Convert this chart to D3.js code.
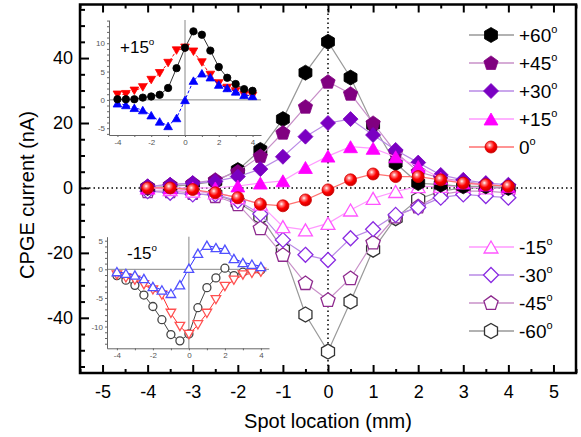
<!DOCTYPE html>
<html>
<head>
<meta charset="utf-8">
<script src="https://cdn.jsdelivr.net/npm/d3@7"></script>
<style>
body { margin: 0; background: #fff; }
svg { display: block; font-family: Arial, "Liberation Sans", sans-serif; }
</style>
</head>
<body>
<svg id="chart"></svg>
<script>
// spot positions (mm)
const positions = [-4, -3.5, -3, -2.5, -2, -1.5, -1, -0.5, 0, 0.5, 1, 1.5, 2, 2.5, 3, 3.5, 4];

// CPGE current (nA) for each incidence angle
const plus60  = [0, 0.5, 1, 2, 5.5, 11.7, 21.2, 35.5, 45, 34, 19.4, 7.6, 1.5, 1, 0.5, 0.5, 0];
const plus45  = [0.5, 1, 1.5, 2.5, 5, 9.8, 17, 25, 32.7, 29, 20, 11, 5, 3, 2, 1, 0.5];
const plus30  = [0.5, 1, 1.5, 2, 3.5, 5.8, 9.6, 15.8, 20, 21.2, 16.3, 11.7, 7.8, 4, 2.5, 1.5, 1];
const plus15  = [0, 0, 0, 0, 0.6, 1.5, 2.2, 6.3, 9.8, 12.7, 12.2, 9.6, 6.6, 3, 1.5, 1, 0.5];
const zero    = [0, 0, -0.5, -1.5, -3, -5, -5.5, -3.7, -0.6, 2.5, 4.3, 3.5, 3.5, 2.5, 1.5, 1, 0.5];
const minus15 = [0, -0.5, -1, -1.5, -3, -5, -11.9, -12.9, -10.9, -6.8, -3.2, -1.1, 0.4, 0.5, 0.5, 0, 0];
const minus30 = [-1, -1.5, -2, -2, -4, -8, -16, -20.6, -22.2, -15.5, -12.7, -8.3, -6, -3, -2, -2.5, -3];
const minus45 = [-1, -1, -1.5, -2.5, -5, -12.4, -20.6, -29.3, -34.5, -27.8, -16.8, -8.8, -5.7, -2, -1, -1, -1.5];
const minus60 = [0, 0, -0.5, -2, -4.5, -8.8, -19, -39, -50.4, -35, -19, -9.3, -3.5, -1, 0, 0, 0];

// inset +15 deg
const insetPlusBlack = [0.1, 0.1, 0.1, 0.4, 0.6, 0.9, 2.1, 5.6, 9.2, 12.1, 11.5, 8.7, 5.8, 3.9, 2.8, 1.9, 1.6];
const insetPlusRed   = [0.9, 1.0, 1.6, 2.2, 3.5, 4.7, 6.5, 8.7, 9.2, 8.5, 6.6, 4.4, 2.9, 2.1, 1.5, 0.9, 0.7];
const insetPlusBlue  = [-0.6, -0.9, -1.4, -1.8, -2.7, -3.8, -4.6, -3.2, 0, 3.4, 4.7, 4.0, 2.7, 2.1, 1.5, 0.9, 0.7];
// inset -15 deg
const insetMinusBlack = [-1.1, -1.9, -2.8, -4.5, -6.5, -8.8, -11.4, -12.5, -11.3, -6.7, -3.2, -1.5, 0.2, -1.1, -0.5, -0.1, -0.1];
const insetMinusRed   = [-1.0, -1.5, -1.9, -2.7, -3.6, -4.5, -7.7, -10.0, -11.4, -9.7, -7.7, -5.3, -3.0, -1.9, -1.0, -0.7, -0.5];
const insetMinusBlue  = [-0.4, -0.7, -1.0, -1.6, -3.0, -3.6, -4.2, -2.7, 0.2, 2.8, 4.2, 3.8, 3.5, 1.9, 1.2, 0.9, 0.5];

const xTicks = [-5, -4, -3, -2, -1, 0, 1, 2, 3, 4, 5];
const yTicks = [-40, -20, 0, 20, 40];

// regular polygon as a d3 symbol type, size = radius^2
function polygon(n, start, shift) {
    return {
        draw(ctx, size) {
            const r = Math.sqrt(size);
            for (let i = 0; i < n; i++) {
                const a = start + i * 2 * Math.PI / n;
                const px = r * Math.sin(a), py = -r * Math.cos(a) + (shift || 0) * r;
                if (i) ctx.lineTo(px, py); else ctx.moveTo(px, py);
            }
            ctx.closePath();
        }
    };
}
const shapes = {
    circle: { draw(ctx, size) { const r = Math.sqrt(size); ctx.moveTo(r, 0); ctx.arc(0, 0, r, 0, 2 * Math.PI); } },
    up: polygon(3, 0, 0.25),
    down: polygon(3, Math.PI, -0.25),
    diamond: polygon(4, 0),
    pentagon: polygon(5, 0, 0.05),
    hexagon: polygon(6, 0)
};

const series = [
    { name: '-60', values: minus60, shape: 'hexagon', r: 7.5, fill: '#fff', stroke: '#333', line: '#999' },
    { name: '-45', values: minus45, shape: 'pentagon', r: 7.5, fill: '#fff', stroke: '#8e2a8e', line: '#c890c8' },
    { name: '-30', values: minus30, shape: 'diamond', r: 7.5, fill: '#fff', stroke: '#8a2be2', line: '#b98ae6' },
    { name: '-15', values: minus15, shape: 'up', r: 8, fill: '#fff', stroke: '#ff55ff', line: '#ff99ff' },
    { name: '+60', values: plus60, shape: 'hexagon', r: 7.5, fill: '#000', stroke: '#000', line: '#999' },
    { name: '+45', values: plus45, shape: 'pentagon', r: 7.5, fill: '#800080', stroke: '#800080', line: '#c890c8' },
    { name: '+30', values: plus30, shape: 'diamond', r: 7.5, fill: '#7a00c2', stroke: '#7a00c2', line: '#b98ae6' },
    { name: '+15', values: plus15, shape: 'up', r: 8, fill: '#ff00ff', stroke: '#ff00ff', line: '#ff99ff' },
    { name: '0', values: zero, shape: 'circle', r: 6, fill: 'url(#ball)', stroke: '#d00000', line: '#ff7070' }
];
const legendTop = ['+60', '+45', '+30', '+15', '0'];
const legendBottom = ['-15', '-30', '-45', '-60'];

const width = 581, height = 437;
const svg = d3.select('#chart').attr('width', width).attr('height', height);

const grad = svg.append('defs').append('radialGradient').attr('id', 'ball')
    .attr('cx', 0.38).attr('cy', 0.35).attr('r', 0.7);
grad.append('stop').attr('offset', '0%').attr('stop-color', '#ffffff');
grad.append('stop').attr('offset', '22%').attr('stop-color', '#ff8080');
grad.append('stop').attr('offset', '55%').attr('stop-color', '#ff0000');
grad.append('stop').attr('offset', '100%').attr('stop-color', '#c00000');

const plotLeft = 80, plotRight = 576, plotTop = 4.5, plotBottom = 373;
const x = d3.scaleLinear().domain([-5.5, 5.5]).range([plotLeft, plotRight]);
const y = d3.scaleLinear().domain([-57, 56.5]).range([plotBottom, plotTop]);

const symbol = d3.symbol();
function marker(sel, s) {
    sel.attr('d', symbol.type(shapes[s.shape]).size(s.r * s.r)())
        .attr('fill', s.fill).attr('stroke', s.stroke)
        .attr('stroke-width', s.fill === '#fff' ? 1.3 : 0.8);
}

// dotted zero lines
svg.append('line').attr('x1', plotLeft).attr('x2', plotRight).attr('y1', y(0)).attr('y2', y(0))
    .attr('stroke', '#000').attr('stroke-width', 1.5).attr('stroke-dasharray', '1.5,3');
svg.append('line').attr('x1', x(0)).attr('x2', x(0)).attr('y1', plotTop).attr('y2', plotBottom)
    .attr('stroke', '#000').attr('stroke-width', 1.5).attr('stroke-dasharray', '1.5,3');

// axes
function styleAxis(g) {
    g.select('.domain').remove();
    g.selectAll('.tick line').attr('stroke', '#000').attr('stroke-width', 2);
    g.selectAll('.tick text').attr('fill', '#000').attr('font-size', 18)
        .attr('font-family', 'Arial, "Liberation Sans", sans-serif');
}
const halves = d3.range(-5.5, 5.51, 0.5).filter(v => Math.abs(v % 1) > 0.1);
const fives = d3.range(-55, 56, 5).filter(v => v % 20 !== 0);
const plain = d => String(d);

svg.append('g').attr('transform', `translate(0,${plotBottom})`)
    .call(d3.axisBottom(x).tickValues(xTicks).tickSize(-8).tickPadding(12).tickFormat(plain))
    .call(styleAxis);
svg.append('g').attr('transform', `translate(0,${plotBottom})`)
    .call(d3.axisBottom(x).tickValues(halves).tickSize(-4).tickFormat(''))
    .call(styleAxis);
svg.append('g').attr('transform', `translate(0,${plotTop})`)
    .call(d3.axisTop(x).tickValues(xTicks).tickSize(-8).tickFormat(''))
    .call(styleAxis);
svg.append('g').attr('transform', `translate(0,${plotTop})`)
    .call(d3.axisTop(x).tickValues(halves).tickSize(-4).tickFormat(''))
    .call(styleAxis);
svg.append('g').attr('transform', `translate(${plotLeft},0)`)
    .call(d3.axisLeft(y).tickValues(yTicks).tickSize(-9).tickPadding(7).tickFormat(plain))
    .call(styleAxis);
svg.append('g').attr('transform', `translate(${plotLeft},0)`)
    .call(d3.axisLeft(y).tickValues(fives).tickSize(-5).tickFormat(''))
    .call(styleAxis);

svg.append('rect').attr('x', plotLeft).attr('y', plotTop)
    .attr('width', plotRight - plotLeft).attr('height', plotBottom - plotTop)
    .attr('fill', 'none').attr('stroke', '#000').attr('stroke-width', 2.5);

// axis titles
svg.append('text').attr('x', 328).attr('y', 428).attr('text-anchor', 'middle')
    .attr('font-size', 20).text('Spot location (mm)');
svg.append('text').attr('transform', 'translate(34,195) rotate(-90)').attr('text-anchor', 'middle')
    .attr('font-size', 20).text('CPGE current (nA)');

// main series
const line = d3.line().x((d, i) => x(positions[i])).y(d => y(d));
series.forEach(s => {
    const g = svg.append('g');
    g.append('path').attr('d', line(s.values)).attr('fill', 'none')
        .attr('stroke', s.line).attr('stroke-width', 1.2);
    g.selectAll('path.m').data(s.values).join('path').attr('class', 'm')
        .attr('transform', (d, i) => `translate(${x(positions[i])},${y(d)})`)
        .call(marker, s);
});

// degree label helper
function degText(g, tx, ty, label, size) {
    const t = g.append('text').attr('x', tx).attr('y', ty).attr('font-size', size).text(label);
    t.append('tspan').attr('font-size', size * 0.58).attr('dy', -size * 0.45).text('o');
    return t;
}

// legend
function legend(names, y0) {
    names.forEach((n, i) => {
        const s = series.find(d => d.name === n);
        const ly = y0 + i * 28;
        const g = svg.append('g');
        g.append('line').attr('x1', 469).attr('x2', 514).attr('y1', ly).attr('y2', ly)
            .attr('stroke', s.line).attr('stroke-width', 1.5);
        g.append('path').attr('transform', `translate(491,${ly})`).call(marker, s);
        degText(g, 519, ly + 7, n, 19);
    });
}
legend(legendTop, 35);
legend(legendBottom, 247);

// insets
function inset(cfg) {
    const g = svg.append('g');
    const ix = d3.scaleLinear().domain(cfg.xd).range(cfg.xr);
    const iy = d3.scaleLinear().domain(cfg.yd).range(cfg.yr);
    g.append('line').attr('x1', cfg.xr[0]).attr('x2', cfg.xr[1]).attr('y1', iy(0)).attr('y2', iy(0))
        .attr('stroke', '#888').attr('stroke-width', 1);
    g.append('line').attr('x1', ix(0)).attr('x2', ix(0)).attr('y1', cfg.yr[1]).attr('y2', cfg.yr[0])
        .attr('stroke', '#888').attr('stroke-width', 1);
    const small = a => {
        a.selectAll('.tick line').attr('stroke', '#666');
        a.selectAll('.tick text').attr('fill', '#555').attr('font-size', 8);
        a.select('.domain').attr('stroke', '#666');
    };
    g.append('g').attr('transform', `translate(0,${cfg.yr[0]})`)
        .call(d3.axisBottom(ix).tickValues(d3.range(-4, 5, 1)).tickSize(2).tickSizeOuter(0)
            .tickPadding(2).tickFormat(d => d % 2 === 0 ? String(d) : ''))
        .call(small);
    g.append('g').attr('transform', `translate(${cfg.xr[0]},0)`)
        .call(d3.axisLeft(iy).tickValues(d3.range(cfg.yt[0], cfg.yt[1] + 1, 1)).tickSize(2).tickSizeOuter(0)
            .tickPadding(2).tickFormat(d => d % 5 === 0 ? String(d) : ''))
        .call(small);
    const iline = d3.line().x((d, i) => ix(positions[i])).y(d => iy(d));
    cfg.series.forEach(s => {
        g.append('path').attr('d', iline(s.values)).attr('fill', 'none')
            .attr('stroke', s.line).attr('stroke-width', 1).attr('stroke-dasharray', s.dash || null);
        g.selectAll(null).data(s.values).join('path')
            .attr('transform', (d, i) => `translate(${ix(positions[i])},${iy(d)})`)
            .call(marker, s);
    });
    degText(g, cfg.label[0], cfg.label[1], cfg.title, 17);
}

inset({
    xd: [-4.5, 4.5], xr: [109, 261], yd: [-6.2, 14.1], yr: [135, 20], yt: [-6, 14],
    title: '+15', label: [120, 53],
    series: [
        { values: insetPlusRed, shape: 'down', r: 5, fill: '#ff0000', stroke: '#ff0000', line: '#ff0000', dash: '3,2' },
        { values: insetPlusBlue, shape: 'up', r: 5, fill: '#0000ff', stroke: '#0000ff', line: '#0000ff', dash: '3,2' },
        { values: insetPlusBlack, shape: 'circle', r: 3.7, fill: '#000', stroke: '#000', line: '#333' }
    ]
});
inset({
    xd: [-4.55, 4.45], xr: [107, 269], yd: [-13.8, 5.7], yr: [348.3, 236.7], yt: [-13, 5],
    title: '-15', label: [127, 258.5],
    series: [
        { values: insetMinusBlack, shape: 'circle', r: 4, fill: '#fff', stroke: '#444', line: '#444' },
        { values: insetMinusRed, shape: 'down', r: 5.5, fill: '#fff', stroke: '#ff5050', line: '#ff3030' },
        { values: insetMinusBlue, shape: 'up', r: 5.5, fill: '#fff', stroke: '#5050ff', line: '#3030ff' }
    ]
});
</script>
</body>
</html>
